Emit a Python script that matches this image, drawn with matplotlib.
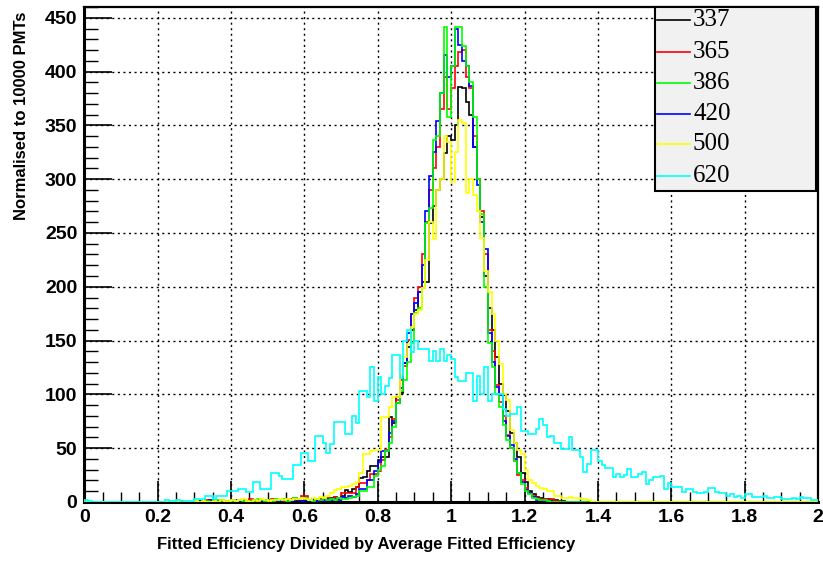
import numpy as np
import matplotlib
matplotlib.use("Agg")
import matplotlib.pyplot as plt
from matplotlib.patches import Rectangle
from matplotlib.lines import Line2D

# bins of 0.01 between 0 and 2
bin_width = 0.01
edges = np.round(np.arange(0, 2.0 + bin_width / 2, bin_width), 2)

# main series, values per bin starting at x = 0.20 (bins 0.20 .. 1.39)
start_main = 0.20
h337 = [0, 0, 0, 0, 0, 0, 0, 0, 0, 0, 1, 0, 0, 1, 0, 0, 1, 0, 1, 0,
        0, 1, 0, 2, 1, 0, 1, 0, 1, 2, 1, 0, 2, 1, 1, 2, 1, 0, 2, 1,
        2, 1, 3, 2, 1, 3, 2, 4, 5, 3, 6, 11, 9, 12, 14, 22, 23, 29, 33, 33,
        39, 42, 42, 79, 73, 98, 101, 129, 144, 160, 178, 195, 204, 204, 259, 275, 290, 300, 324, 340,
        336, 350, 386, 385, 372, 360, 330, 300, 265, 210, 180, 160, 135, 110, 99, 85, 64, 55, 42, 27,
        19, 10, 7, 5, 4, 3, 3, 2, 2, 1, 1, 0, 0, 0, 0, 0, 0, 0, 0, 0]
h365 = [0, 0, 0, 0, 0, 0, 1, 0, 0, 0, 0, 1, 0, 2, 0, 1, 0, 2, 1, 0,
        2, 1, 0, 2, 1, 3, 1, 2, 1, 0, 2, 3, 1, 2, 1, 2, 3, 4, 2, 6,
        6, 2, 3, 1, 3, 2, 4, 3, 5, 4, 8, 8, 8, 8, 14, 18, 18, 20, 26, 26,
        29, 39, 48, 60, 77, 95, 113, 126, 151, 175, 190, 200, 230, 260, 290, 310, 330, 365, 395, 365,
        385, 405, 418, 420, 395, 385, 340, 300, 270, 230, 160, 140, 109, 93, 80, 62, 50, 38, 25, 20,
        13, 8, 6, 4, 3, 3, 2, 3, 1, 1, 0, 0, 0, 0, 0, 0, 0, 0, 0, 0]
h386 = [0, 0, 0, 0, 0, 0, 0, 0, 0, 0, 1, 0, 0, 1, 0, 0, 2, 1, 0, 1,
        1, 0, 2, 1, 0, 1, 1, 3, 2, 1, 2, 1, 3, 2, 3, 1, 2, 4, 3, 4,
        4, 2, 1, 3, 2, 4, 2, 3, 2, 4, 3, 3, 4, 5, 6, 10, 10, 14, 14, 24,
        30, 33, 47, 55, 70, 92, 103, 113, 130, 148, 176, 180, 199, 259, 273, 336, 340, 380, 441, 358,
        405, 441, 441, 424, 405, 390, 358, 300, 268, 200, 148, 125, 100, 88, 72, 58, 50, 38, 27, 17,
        10, 7, 4, 3, 2, 2, 1, 0, 0, 0, 0, 0, 0, 0, 0, 0, 0, 0, 0, 0]
h420 = [0, 0, 0, 0, 0, 0, 0, 0, 0, 0, 0, 1, 0, 0, 2, 0, 1, 1, 0, 1,
        0, 2, 1, 0, 1, 1, 2, 0, 1, 1, 2, 1, 1, 0, 2, 1, 1, 2, 2, 1,
        2, 1, 2, 1, 2, 1, 3, 2, 3, 2, 5, 4, 6, 5, 7, 12, 12, 20, 20, 29,
        37, 47, 47, 64, 75, 92, 106, 129, 157, 175, 185, 195, 220, 270, 303, 325, 354, 380, 415, 395,
        405, 440, 425, 410, 405, 387, 330, 295, 260, 235, 157, 130, 107, 99, 75, 61, 53, 40, 27, 19,
        11, 8, 5, 2, 2, 1, 1, 0, 0, 0, 0, 0, 0, 0, 0, 0, 0, 0, 0, 0]
h500 = [0, 0, 0, 0, 0, 0, 0, 0, 0, 0, 1, 0, 1, 0, 0, 1, 0, 2, 1, 1,
        2, 1, 2, 3, 1, 0, 2, 1, 3, 2, 1, 2, 2, 3, 2, 3, 2, 3, 3, 4,
        3, 2, 4, 3, 5, 4, 6, 8, 11, 12, 14, 14, 15, 17, 19, 27, 45, 45, 47, 48,
        48, 79, 79, 88, 98, 98, 118, 135, 147, 163, 175, 178, 199, 225, 260, 244, 290, 300, 340, 335,
        297, 325, 355, 352, 287, 300, 285, 270, 245, 215, 195, 175, 150, 128, 100, 95, 67, 55, 48, 45,
        30, 20, 18, 15, 13, 12, 10, 10, 6, 6, 4, 4, 5, 4, 4, 3, 3, 2, 0, 0]
# 620 is broad, full range 0.00 .. 1.99
h620 = [2, 1, 0, 0, 0, 0, 0, 0, 0, 0, 0, 0, 0, 0, 0, 0, 0, 0, 0, 0,
        0, 0, 2, 1, 1, 2, 1, 1, 1, 1, 3, 3, 3, 6, 6, 3, 6, 6, 6, 10,
        10, 10, 12, 12, 9, 9, 19, 19, 12, 12, 12, 27, 27, 24, 21, 21, 21, 34, 34, 46,
        46, 38, 38, 61, 61, 55, 46, 54, 74, 74, 74, 63, 63, 80, 73, 103, 103, 98, 125, 94,
        116, 100, 108, 115, 137, 137, 115, 150, 160, 139, 150, 142, 142, 142, 131, 140, 131, 142, 131, 137,
        133, 116, 112, 112, 120, 120, 94, 117, 100, 125, 94, 100, 100, 100, 86, 80, 82, 82, 88, 66,
        66, 63, 63, 68, 77, 72, 60, 61, 55, 55, 49, 49, 60, 48, 48, 42, 28, 35, 48, 48,
        38, 34, 32, 32, 23, 26, 23, 25, 31, 23, 23, 26, 28, 17, 20, 23, 23, 24, 12, 18,
        14, 14, 14, 9, 12, 12, 9, 8, 8, 9, 13, 13, 9, 8, 8, 6, 7, 5, 6, 4,
        7, 7, 5, 5, 5, 6, 4, 4, 5, 5, 3, 3, 3, 4, 3, 5, 4, 4, 2, 2]

labels = ["337", "365", "386", "420", "500", "620"]
colors = ["#000000", "#ff0000", "#00ff00", "#0000ff", "#ffff00", "#00ffff"]


def full_bins(vals, start):
    out = np.zeros(len(edges) - 1)
    i0 = int(round(start / bin_width))
    out[i0:i0 + len(vals)] = vals
    return out


series = {
    "337": full_bins(h337, start_main),
    "365": full_bins(h365, start_main),
    "386": full_bins(h386, start_main),
    "420": full_bins(h420, start_main),
    "500": full_bins(h500, start_main),
    "620": full_bins(h620, 0.0),
}

W, H = 823, 563
fig = plt.figure(figsize=(W / 100, H / 100), dpi=100)
ax = fig.add_axes([84.3 / W, 1 - 502 / H, (818 - 84.3) / W, (502 - 7) / H])

# grid first
for gx in np.arange(0.2, 2.0, 0.2):
    ax.axvline(gx, color="black", lw=1.0, ls=(0, (1.5, 2.5)), zorder=1)
for gy in np.arange(50, 451, 50):
    ax.axhline(gy, color="black", lw=1.0, ls=(0, (1.5, 2.5)), zorder=1)

draw_order = ["337", "365", "420", "386", "500", "620"]
for lab in draw_order:
    c = colors[labels.index(lab)]
    ax.stairs(series[lab], edges, color=c, lw=1.2, zorder=3)

ax.set_xlim(0, 2)
ax.set_ylim(0, 460)
ax.set_xticks(np.arange(0, 2.01, 0.2))
ax.set_xticklabels(["0", "0.2", "0.4", "0.6", "0.8", "1", "1.2", "1.4", "1.6", "1.8", "2"])
ax.set_xticks(np.arange(0, 2.01, 0.05), minor=True)
ax.set_yticks(np.arange(0, 451, 50))
ax.set_yticks(np.arange(0, 461, 10), minor=True)

for t in ax.get_xticklabels() + ax.get_yticklabels():
    t.set_fontfamily(["Liberation Sans", "DejaVu Sans"])
    t.set_fontweight("bold")
    t.set_fontsize(14)

ax.tick_params(axis="x", which="major", direction="in", length=15, width=1.2, pad=5)
ax.tick_params(axis="x", which="minor", direction="in", length=7, width=1.0)
ax.tick_params(axis="y", which="major", direction="in", length=20, width=1.2, pad=5)
ax.tick_params(axis="y", which="minor", direction="in", length=10, width=1.0)

for s in ["left", "bottom"]:
    ax.spines[s].set_linewidth(2.2)
for s in ["top", "right"]:
    ax.spines[s].set_linewidth(1.6)

fig.text(366 / W, 1 - 545 / H, "Fitted Efficiency Divided by Average Fitted Efficiency",
         ha="center", va="center", fontsize=12, fontweight="bold",
         family=["Liberation Sans", "DejaVu Sans"])
fig.text(22 / W, 1 - 12 / H, "Normalised to 10000 PMTs", rotation=90,
         ha="center", va="top", fontsize=12, fontweight="bold",
         family=["Liberation Sans", "DejaVu Sans"])

# legend box (ROOT style)
lx0, lx1, ly0, ly1 = 655, 816, 7, 191
fig.patches.append(Rectangle((lx0 / W, 1 - ly1 / H), (lx1 - lx0) / W, (ly1 - ly0) / H,
                             transform=fig.transFigure, facecolor="#f1f1f1",
                             edgecolor="black", lw=1.5, zorder=5))
rows = [20, 52, 83, 114, 144, 176]
for lab, c, ry in zip(labels, colors, rows):
    fig.lines.append(Line2D([657 / W, 690 / W], [1 - ry / H, 1 - ry / H],
                            transform=fig.transFigure, color=c, lw=1.2, zorder=6))
    fig.text(693 / W, 1 - ry / H, lab, ha="left", va="center", fontsize=18,
             family=["Liberation Serif", "DejaVu Serif"], zorder=6)

fig.savefig("out.png", dpi=100)
